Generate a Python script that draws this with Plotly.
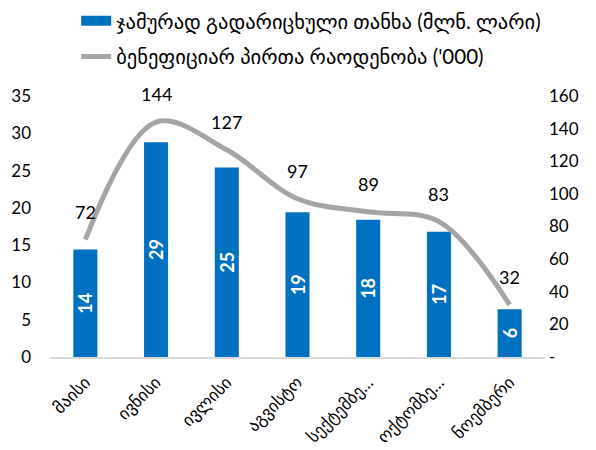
import plotly.graph_objects as go

# months (Georgian), as shown on the axis
months = ["მაისი", "ივნისი", "ივლისი", "აგვისტო", "სექტემბე…", "ოქტომბე…", "ნოემბერი"]

# total amount paid (mln. GEL) - left axis
amount = [14.4, 28.8, 25.4, 19.4, 18.4, 16.8, 6.4]

# number of beneficiaries ('000) - right axis
beneficiaries = [72, 144, 127, 97, 89, 83, 32]

y2_ticks = [0, 20, 40, 60, 80, 100, 120, 140, 160]
y2_labels = ["-", "20", "40", "60", "80", "100", "120", "140", "160"]

bar_name = "ჯამურად გადარიცხული თანხა (მლნ. ლარი)"
line_name = "ბენეფიციარ პირთა რაოდენობა ('000)"

base_font = "Lato, 'DejaVu Sans', sans-serif"

fig = go.Figure()

fig.add_trace(go.Bar(
    x=months, y=amount,
    name=bar_name,
    marker=dict(color="#0070C0", line=dict(width=0)),
    texttemplate="%{y:.0f}",
    textposition="inside",
    insidetextanchor="middle",
    textangle=-90,
    textfont=dict(color="white", size=18, family=base_font, weight="bold"),
    showlegend=False,
))

# legend entry for the bars drawn as a wide block, like the original
fig.add_trace(go.Scatter(
    x=[None], y=[None], mode="lines", name=bar_name,
    line=dict(color="#0070C0", width=12),
    legendgroup="a",
))

fig.add_trace(go.Scatter(
    x=months, y=beneficiaries,
    name=line_name,
    mode="lines",
    line=dict(color="#A5A5A5", width=5, shape="spline", smoothing=1.0),
    yaxis="y2",
    legendgroup="b",
))

# data labels above the line points
for m, v in zip(months, beneficiaries):
    fig.add_annotation(x=m, y=v, yref="y2", text=str(v), showarrow=False,
                       yshift=28, font=dict(size=18, color="black", family=base_font))

# page body has an 8px margin, so the figure is a bit smaller than the window
fig.update_layout(
    width=588, height=442,
    margin=dict(l=42, r=51, t=88, b=93, autoexpand=False),
    plot_bgcolor="white", paper_bgcolor="white",
    font=dict(family=base_font, size=17, color="black"),
    bargap=0.66,
    uniformtext=dict(minsize=18, mode="show"),
    showlegend=True,
    legend=dict(
        x=0.116, y=1.364, xanchor="left", yanchor="top",
        xref="container", yref="paper", orientation="v",
        font=dict(size=20.5, color="black"),
        traceorder="grouped", tracegroupgap=6,
        bgcolor="rgba(0,0,0,0)",
    ),
    xaxis=dict(
        tickangle=-45,
        showline=True, linecolor="#D9D9D9", linewidth=1.5,
        showgrid=False, ticks="",
        tickfont=dict(size=17),
        ticklabelstandoff=7,
    ),
    yaxis=dict(
        range=[0, 35], dtick=5,
        showgrid=False, zeroline=False, showline=False,
        tickfont=dict(size=17),
        ticklabelstandoff=18,
    ),
    yaxis2=dict(
        range=[0, 160], tickvals=y2_ticks, ticktext=y2_labels,
        overlaying="y", side="right",
        showgrid=False, zeroline=False, showline=False,
        tickfont=dict(size=17),
        ticklabelstandoff=3,
    ),
)

fig.write_html("out.html")
